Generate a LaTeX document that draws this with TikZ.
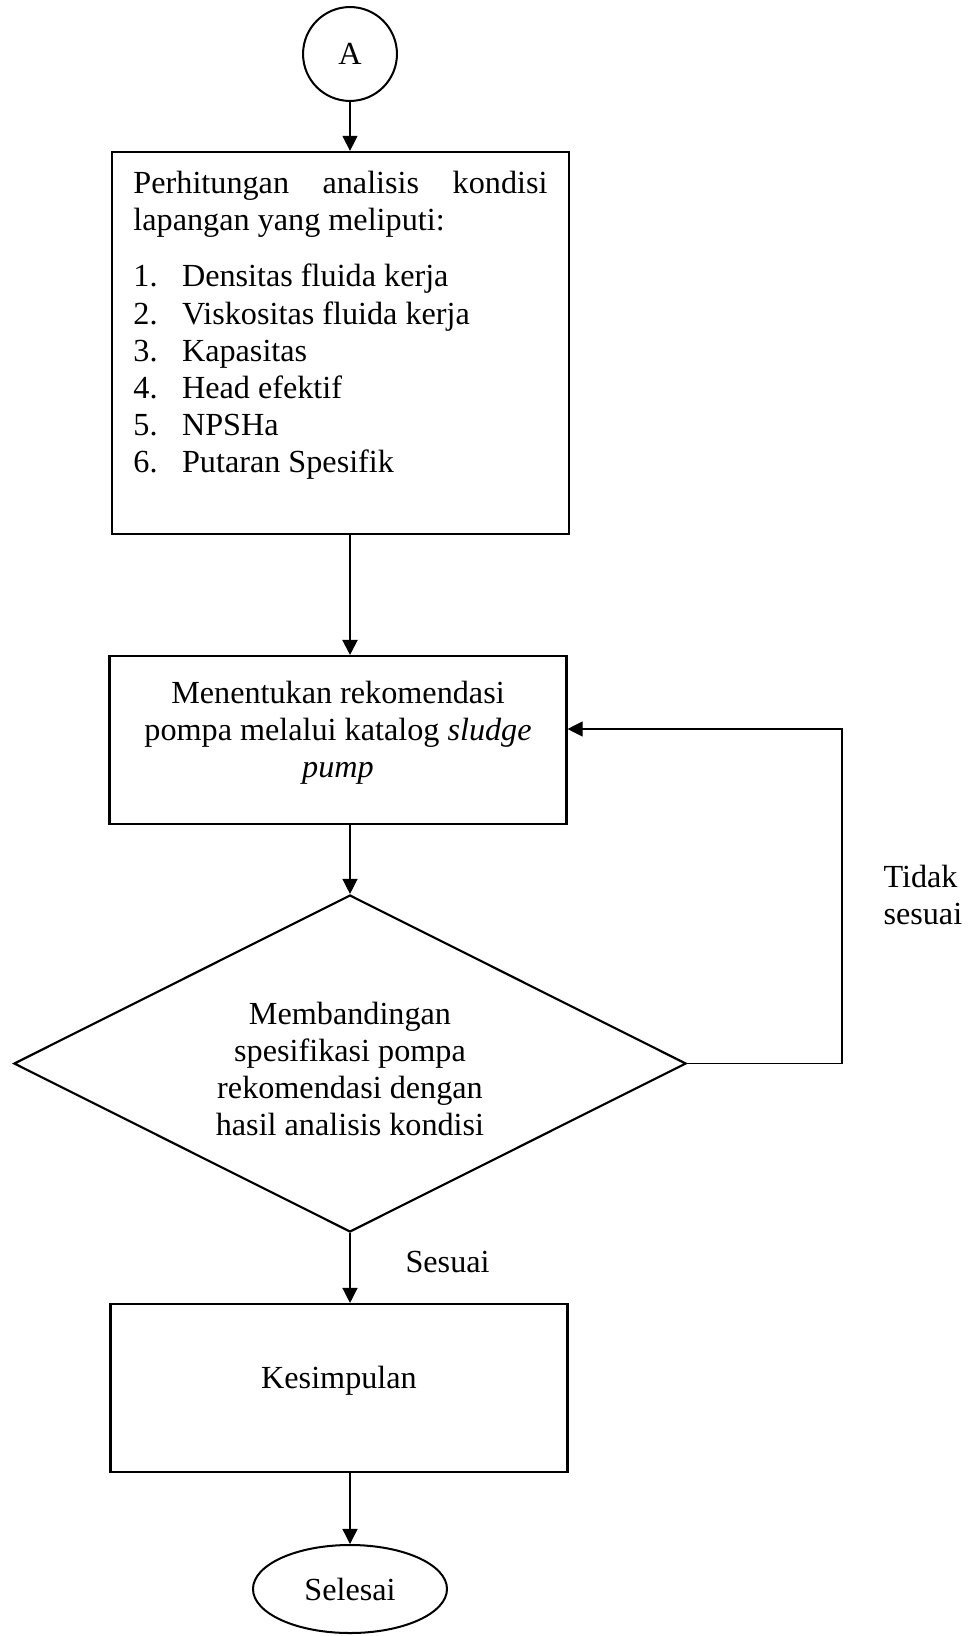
\documentclass[tikz,border=0pt]{standalone}
\usepackage{fontspec}
\setmainfont{Liberation Serif}
\usetikzlibrary{positioning,shapes.geometric,arrows.meta}
\tikzset{font=\fontsize{12}{13.8}\selectfont,
	>={Triangle[length=5.6pt,width=5.6pt]},
	box/.style={draw, rectangle, line width=0.8pt, inner sep=0pt, align=center,
		minimum width=170.3pt, minimum height=62.6pt},
	decision/.style={draw, diamond, aspect=2, line width=0.8pt, inner sep=0pt, align=center,
		minimum width=250.5pt, minimum height=125.6pt},
	terminal/.style={draw, line width=0.75pt, inner sep=0pt},
	note/.style={inner sep=0pt}}

\begin{document}
\begin{tikzpicture}[x=0.3727pt, y=-0.3727pt]
	\useasboundingbox (0,0) rectangle (968,1636);
	\begin{scope}
		\node[terminal, circle, minimum size=35pt] (start) at (350, 54) {A};

		\node[box, inner xsep=8pt, inner ysep=7.1pt, align=left] (hitung) at (340.5, 343)
			{\parbox[c][128.2pt][t]{154.3pt}{Perhitungan\hfill analisis\hfill kondisi\\
			lapangan yang meliputi:\\[7.3pt]
			\makebox[18.1pt][l]{1.}Densitas fluida kerja\\
			\makebox[18.1pt][l]{2.}Viskositas fluida kerja\\
			\makebox[18.1pt][l]{3.}Kapasitas\\
			\makebox[18.1pt][l]{4.}Head efektif\\
			\makebox[18.1pt][l]{5.}NPSHa\\
			\makebox[18.1pt][l]{6.}Putaran Spesifik}};

		\node[box] (rekom) at (338, 740)
			{\parbox[c][62.6pt][t]{170.3pt}{\centering\vspace*{9.3pt}Menentukan rekomendasi\\
			pompa melalui katalog \textit{sludge}\\ \textit{pump}}};

		\node[decision] (banding) at (350, 1063.5)
			{\parbox{120pt}{\centering\vspace*{3.9pt}Membandingan\\ spesifikasi pompa\\
			rekomendasi dengan\\ hasil analisis kondisi}};

		\node[box] (simpul) at (339, 1388)
			{\parbox[c][62.6pt][t]{170.3pt}{\centering\vspace*{23.1pt}Kesimpulan}};

		\node[terminal, ellipse, minimum width=72.3pt, minimum height=32.8pt] (selesai) at (350, 1589) {Selesai};

		\node[note, anchor=base west] (sesuai) at (405, 1272) {Sesuai};
		\node[note, anchor=west, align=left] (tidak) at (883, 895) {Tidak \\ sesuai};

		\coordinate (balik) at (842, 729);

		\draw[->, line width=0.5pt](start) -- (start |- hitung.north);
		\draw[->, line width=0.8pt](start |- hitung.south) -- (start |- rekom.north);
		\draw[->, line width=0.5pt](banding |- rekom.south) -- (banding.north);
		\draw[->, line width=0.5pt](banding.south) -- (banding |- simpul.north);
		\draw[->, line width=0.5pt](banding |- simpul.south) -- (selesai);
		\draw[->, line width=0.4pt](banding.east) -| (balik) -- (rekom.east |- balik);
	\end{scope}
\end{tikzpicture}
\end{document}
